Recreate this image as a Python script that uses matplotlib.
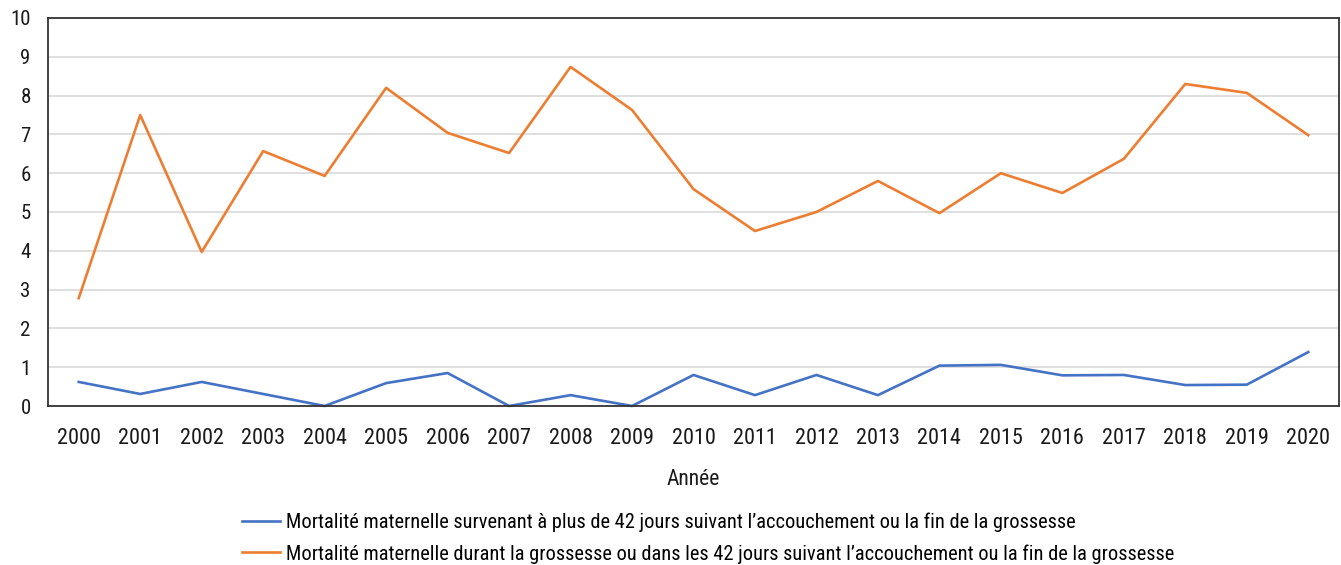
import matplotlib
matplotlib.use('Agg')
import matplotlib.pyplot as plt

plt.rcParams['font.family'] = ['Roboto Condensed', 'Liberation Sans Narrow', 'Roboto', 'DejaVu Sans']

# données
annees = list(range(2000, 2021))
plus_42_jours = [0.62, 0.31, 0.62, 0.31, 0.0, 0.59, 0.85, 0.0, 0.28, 0.0,
                 0.80, 0.28, 0.80, 0.28, 1.04, 1.06, 0.79, 0.80, 0.54, 0.55, 1.39]
durant_42_jours = [2.78, 7.50, 3.97, 6.57, 5.93, 8.20, 7.04, 6.52, 8.74, 7.63,
                   5.59, 4.51, 5.00, 5.80, 4.97, 6.00, 5.49, 6.37, 8.30, 8.07, 6.98]
labels = ["Mortalité maternelle survenant à plus de 42 jours suivant l’accouchement ou la fin de la grossesse",
          "Mortalité maternelle durant la grossesse ou dans les 42 jours suivant l’accouchement ou la fin de la grossesse"]

fig = plt.figure(figsize=(13.41, 5.65), dpi=100)
ax = fig.add_axes([48/1341, 1 - 406/565, (1339 - 48)/1341, (406 - 18)/565])

x = list(range(len(annees)))
ax.plot(x, plus_42_jours, color='#4472C4', linewidth=1.9, label=labels[0], clip_on=False)
ax.plot(x, durant_42_jours, color='#ED7D31', linewidth=1.9, label=labels[1], clip_on=False)

ax.set_xlim(-0.5, len(annees) - 0.5)
ax.set_ylim(0, 10)
ax.set_yticks(range(0, 11))
ax.set_xticks(x)
ax.set_xticklabels([str(a) for a in annees])
ax.tick_params(length=0, colors='#1a1a1a')
ax.tick_params(axis='x', pad=16, labelsize=16)
ax.tick_params(axis='y', pad=12.5, labelsize=15)
ax.grid(axis='y', color='#D9D9D9', linewidth=1.2)
ax.set_axisbelow(True)
for s in ax.spines.values():
    s.set_color('#333333')
    s.set_linewidth(1.3)

ax.set_xlabel('Année', fontsize=15.5, color='#1a1a1a', labelpad=14.5)

fig.legend(loc='center', bbox_to_anchor=(708/1341, 1 - 538/565), ncol=1, frameon=False,
           fontsize=14.7, handlelength=1.85, handletextpad=0.3, labelspacing=0.6)

fig.savefig('out.png', dpi=100)
